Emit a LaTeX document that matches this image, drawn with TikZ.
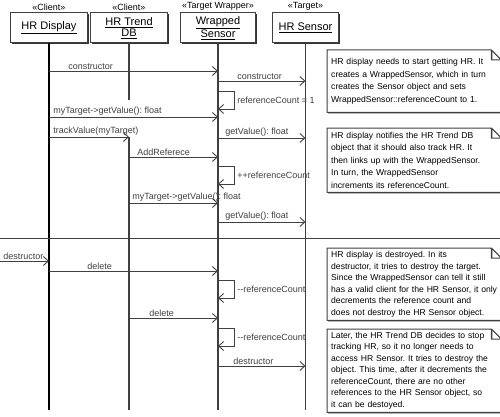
\documentclass[tikz,border=0pt]{standalone}
\usepackage{fontspec}
\setmainfont{Liberation Sans}
\frenchspacing
\usetikzlibrary{arrows.meta,shadows,positioning}
\pgfdeclarelayer{bg}
\pgfsetlayers{bg,main}

\tikzset{
  head/.style={draw=black!75,line width=1pt,fill=white,inner sep=1pt,minimum height=30pt,
    align=center,font=\fontsize{11}{11.5}\selectfont,
    drop shadow={shadow xshift=1pt,shadow yshift=-1pt,fill=black!80,opacity=1}},
  stereo/.style={font=\fontsize{9}{9}\selectfont,inner sep=0pt},
  life/.style={black!75,line width=1.2pt},
  msg/.style={black!75,line width=0.9pt,-{Straight Barb[length=5pt,width=9pt]}},
  lbl/.style={font=\fontsize{9}{9}\selectfont,inner sep=1pt,anchor=south west},
  note/.style={font=\fontsize{8.6}{11.5}\selectfont,align=left,text width=166pt,
    inner xsep=4pt,inner ysep=3pt,anchor=north west},
  wide/.style={font=\fontsize{8.6}{12.5}\selectfont},
  noteframe/.style={draw=black!75,line width=1pt,fill=white,
    drop shadow={shadow xshift=1pt,shadow yshift=-1pt,fill=black!80,opacity=1}}
}

\begin{document}
\begin{tikzpicture}[x=1pt,y=-1pt]
  \useasboundingbox (0,0) rectangle (500,417);
  % objects
  \node[head,minimum width=77pt] (disp) at (49,28) {\underline{HR Display}};
  \node[head,minimum width=77pt] (trend) at (129,28) {\underline{HR Trend}\\\underline{DB}};
  \node[head,minimum width=75pt] (wrap) at (218,28) {\underline{Wrapped}\\\underline{Sensor}};
  \node[head,minimum width=66pt] (sensor) at (305.5,28) {\underline{HR Sensor}};
  \node[stereo,above=2pt of disp] (stDisp) {«Client»};
  \node[stereo,above=2pt of trend] (stTrend) {«Client»};
  \node[stereo,above=2pt of wrap] (stWrap) {«Target Wrapper»};
  \node[stereo,above=2pt of sensor] (stSensor) {«Target»};

  % lifelines
  \coordinate (bottom) at (0,410);
  \draw[life,black] (disp) -- (disp |- bottom);
  \draw[life] (trend.south) -- ++(0,57);
  \draw[life] (trend |- 0,137) -- (trend |- bottom);
  \draw[life] (wrap) -- (wrap |- bottom);
  \draw[life] (sensor) -- (sensor |- bottom);

  % separator
  \coordinate (sepL) at (0,238);
  \coordinate (sepR) at (500,238);
  \draw[black!75,line width=1pt] (sepL) -- (sepR);

  % messages
  \foreach \a/\b/\y/\dx/\t in {
      disp/wrap/71/18/constructor,
      wrap/sensor/81/18/constructor,
      disp/wrap/117/3/myTarget->getValue(): float,
      disp/trend/137/3/trackValue(myTarget),
      wrap/sensor/138/6/getValue(): float,
      trend/wrap/157/7/AddReferece,
      trend/wrap/203/2/myTarget->getValue(): float,
      wrap/sensor/222/6/getValue(): float,
      disp/wrap/271/37/delete,
      trend/wrap/318/19/delete,
      wrap/sensor/366/14/destructor}
    \draw[msg] (\a |- 0,\y) -- (\b |- 0,\y)
      node[lbl] at ([xshift=\dx pt]\a |- 0,\y) {\t};

  % self calls on the wrapper
  \foreach \y/\t in {
      91/referenceCount = 1,
      166/++referenceCount,
      280/{-}{-}referenceCount,
      328/{-}{-}referenceCount}
    \draw[msg] (wrap |- 0,\y) -- ++(16,0) -- ++(0,18) -- ++(-16,0)
      node[lbl,anchor=west] at ([xshift=18pt]wrap |- 0,\y+9) {\t};

  % found message
  \coordinate (gate) at (0,261);
  \draw[msg] (gate) -- (disp |- gate)
    node[lbl] at ([xshift=2pt]gate) {destructor};

  % notes
  \node[note,wide,minimum height=62pt] (noteA) at (327,50) {HR display needs to start getting HR. It\\
    creates a WrappedSensor, which in turn\\
    creates the Sensor object and sets\\
    WrappedSensor::referenceCount to 1.};
  \node[note,wide,minimum height=64pt] (noteB) at (327,128) {HR display notifies the HR Trend DB\\
    object that it should also track HR. It\\
    then links up with the WrappedSensor.\\
    In turn, the WrappedSensor\\
    increments its referenceCount.};
  \node[note,minimum height=72pt] (noteC) at (327,248) {HR display is destroyed. In its\\
    destructor, it tries to destroy the target.\\
    Since the WrappedSensor can tell it still\\
    has a valid client for the HR Sensor, it only\\
    decrements the reference count and\\
    does not destroy the HR Sensor object.};
  \node[note,minimum height=83pt] (noteD) at (327,329) {Later, the HR Trend DB decides to stop\\
    tracking HR, so it no longer needs to\\
    access HR Sensor. It tries to destroy the\\
    object. This time, after it decrements the\\
    referenceCount, there are no other\\
    references to the HR Sensor object, so\\
    it can be destoyed.};
  \begin{pgfonlayer}{bg}
    \foreach \n in {noteA,noteB,noteC,noteD}
      \draw[noteframe] (\n.north west) -- ([xshift=-10pt]\n.north east)
        -- ([yshift=-10pt]\n.north east) -- (\n.south east) -- (\n.south west) -- cycle
        ([xshift=-10pt]\n.north east) |- ([yshift=-10pt]\n.north east);
  \end{pgfonlayer}
\end{tikzpicture}
\end{document}
